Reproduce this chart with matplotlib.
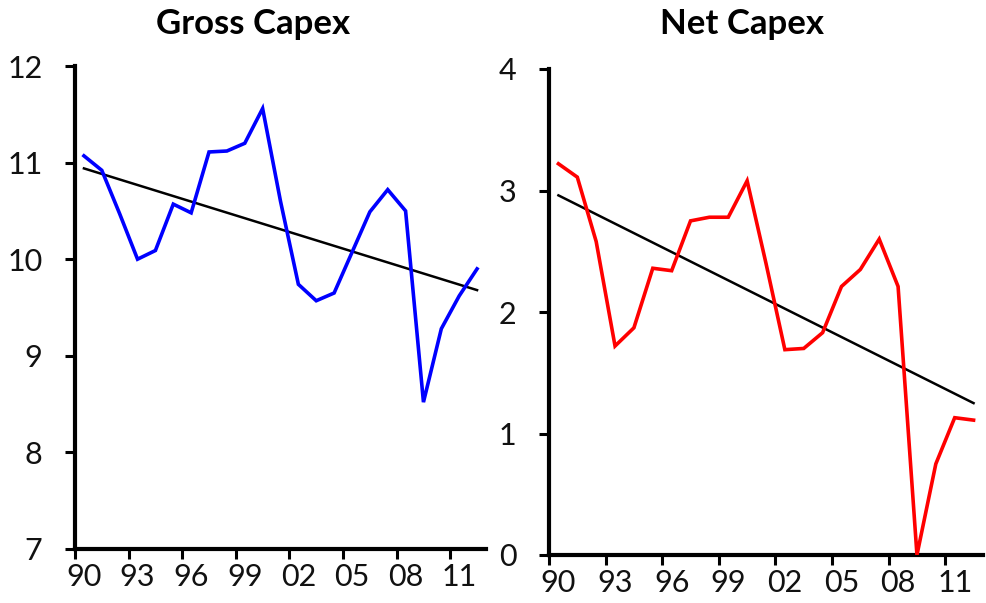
import matplotlib
matplotlib.use('Agg')
import matplotlib.pyplot as plt
import numpy as np

# Dados (1990-2012)
anos = list(range(1990, 2013))
gross_capex = [11.07, 10.92, 10.47, 10.00, 10.09, 10.57, 10.48, 11.11, 11.12, 11.20,
               11.56, 10.60, 9.74, 9.57, 9.65, 10.07, 10.49, 10.72, 10.50, 8.52,
               9.28, 9.62, 9.90]
net_capex = [3.22, 3.11, 2.58, 1.72, 1.87, 2.36, 2.34, 2.75, 2.78, 2.78,
             3.08, 2.40, 1.69, 1.70, 1.83, 2.21, 2.35, 2.60, 2.21, 0.00,
             0.75, 1.13, 1.11]
# tendência: valor no primeiro e no último ano
gross_trend = [10.94, 9.68]
net_trend = [2.96, 1.25]
rotulos_x = ['90', '93', '96', '99', '02', '05', '08', '11']

plt.rcParams['font.family'] = ['Lato', 'DejaVu Sans']

fig = plt.figure(figsize=(9.86, 6.03), dpi=100)
ax1 = fig.add_axes([75 / 986, 1 - 549 / 603, 411 / 986, 483 / 603])
ax2 = fig.add_axes([549 / 986, 1 - 555 / 603, 434 / 986, 486 / 603])


def desenhar(ax, valores, tendencia, cor, ylim, yticks):
    x = np.arange(len(anos))
    ax.plot(x, valores, color=cor, lw=2.6, solid_joinstyle='miter', zorder=3)
    ax.plot([x[0], x[-1]], tendencia, color='black', lw=1.8, zorder=2)
    ax.set_xlim(-0.5, len(anos) - 0.5)
    ax.set_ylim(*ylim)
    ax.set_yticks(yticks)
    ax.set_yticklabels([str(v) for v in yticks])
    pos = np.arange(0, len(anos), 3)
    ax.set_xticks(pos - 0.5)
    ax.set_xticklabels([])
    ax.set_xticks(pos, minor=True)
    ax.set_xticklabels(rotulos_x, minor=True)
    ax.tick_params(axis='x', which='major', length=7.5, width=2.2, direction='out')
    ax.tick_params(axis='x', which='minor', length=0, pad=10, labelsize=22, labelcolor='#111111')
    ax.tick_params(axis='y', length=7.5, width=2.2, direction='out', pad=16, labelsize=22,
                   labelcolor='#111111')
    for lado in ['top', 'right']:
        ax.spines[lado].set_visible(False)
    for lado in ['left', 'bottom']:
        ax.spines[lado].set_linewidth(3)
    ax.set_facecolor('white')


desenhar(ax1, gross_capex, gross_trend, '#0000ff', (7, 12), [7, 8, 9, 10, 11, 12])
desenhar(ax2, net_capex, net_trend, '#ff0000', (0, 4), [0, 1, 2, 3, 4])

fig.text(253 / 986, 1 - 24 / 603, 'Gross Capex', ha='center', va='center',
         fontsize=25, fontweight='bold')
fig.text(742 / 986, 1 - 24 / 603, 'Net Capex', ha='center', va='center',
         fontsize=25, fontweight='bold')

fig.savefig('out.png', dpi=100, facecolor='white')
